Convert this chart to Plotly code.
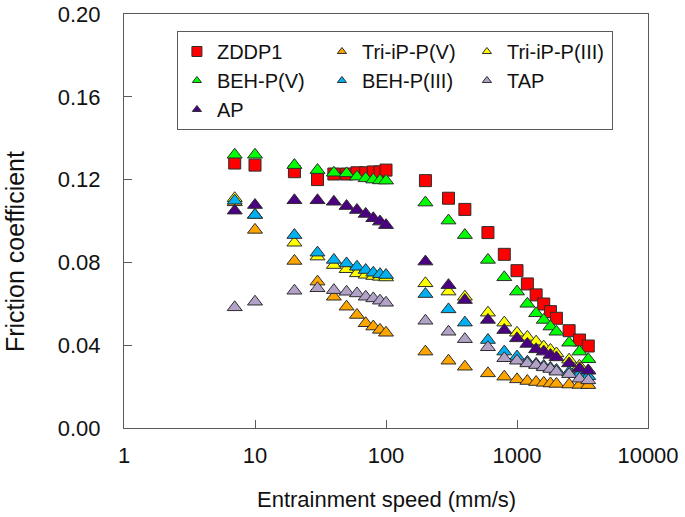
import plotly.graph_objects as go

speed = [7, 10, 20, 30, 40, 50, 60, 70, 80, 90, 100, 200, 300, 400, 600, 800,
         1000, 1200, 1400, 1600, 1800, 2000, 2500, 3000, 3500]

zddp1 = [0.128, 0.127, 0.1238, 0.120, 0.1227, 0.1227, 0.1233, 0.1233, 0.1237, 0.1237, 0.1246,
         0.1195, 0.111, 0.1056, 0.0944, 0.0839, 0.076, 0.0696, 0.0643, 0.0599, 0.0562, 0.053,
         0.047, 0.0425, 0.0396]
tri_v = [0.109, 0.0957, 0.0807, 0.0707, 0.0634, 0.0586, 0.0546, 0.0506, 0.049, 0.0474, 0.046,
         0.0369, 0.0325, 0.0296, 0.0264, 0.0248, 0.0235, 0.0227, 0.0222, 0.0218, 0.0215, 0.0213,
         0.021, 0.0208, 0.0207]
tri_iii = [0.111, 0.103, 0.0895, 0.0828, 0.0787, 0.0767, 0.0747, 0.074, 0.0734, 0.073, 0.0727,
           0.0699, 0.0659, 0.0634, 0.0557, 0.0509, 0.046, 0.044, 0.0417, 0.0393, 0.0377, 0.036,
           0.033, 0.030, 0.0278]
beh_v = [0.132, 0.132, 0.127, 0.1246, 0.1233, 0.123, 0.1214, 0.1206, 0.120, 0.1196, 0.1195,
         0.1089, 0.1002, 0.0932, 0.0812, 0.0728, 0.0659, 0.060, 0.0554, 0.0522, 0.049, 0.0465,
         0.0412, 0.0369, 0.0332]
beh_iii = [0.1098, 0.1029, 0.0932, 0.0847, 0.0812, 0.0795, 0.0779, 0.0763, 0.075, 0.0743, 0.0739,
           0.0647, 0.0573, 0.0509, 0.0425, 0.0369, 0.0345, 0.032, 0.031, 0.030, 0.029, 0.028,
           0.027, 0.026, 0.025]
tap = [0.0583, 0.061, 0.0663, 0.0675, 0.0666, 0.0658, 0.065, 0.0634, 0.0626, 0.0615, 0.0605,
       0.0518, 0.0465, 0.0429, 0.039, 0.0337, 0.0325, 0.0312, 0.0304, 0.0293, 0.0285, 0.0272,
       0.026, 0.0238, 0.023]
ap = [0.105, 0.1077, 0.110, 0.110, 0.1093, 0.1072, 0.1053, 0.1034, 0.1013, 0.0997, 0.098,
      0.0804, 0.069, 0.0618, 0.0522, 0.0473, 0.0433, 0.0406, 0.038, 0.0369, 0.0353, 0.0341,
      0.0312, 0.0288, 0.0277]

series = [
    ("ZDDP1", zddp1, "square", "#FF0000"),
    ("Tri-iP-P(V)", tri_v, "triangle-up", "#FFA500"),
    ("Tri-iP-P(III)", tri_iii, "triangle-up", "#FFFF00"),
    ("BEH-P(V)", beh_v, "triangle-up", "#00FF00"),
    ("BEH-P(III)", beh_iii, "triangle-up", "#00B0F0"),
    ("TAP", tap, "triangle-up", "#B2A2C8"),
    ("AP", ap, "triangle-up", "#4B0082"),
]

x_ticks = [1, 10, 100, 1000, 10000]
x_ticktext = ["1", "10", "100", "1000", "10000"]
y_ticks = [0.0, 0.04, 0.08, 0.12, 0.16, 0.20]
y_ticktext = ["0.00", "0.04", "0.08", "0.12", "0.16", "0.20"]

FONT = "Arial, Liberation Sans, sans-serif"
EDGE = "rgb(45,45,45)"
AXC = "rgb(90,90,90)"

fig = go.Figure()
for name, vals, sym, col in series:
    fig.add_trace(go.Scatter(
        x=speed, y=vals, mode="markers", name=name, showlegend=False,
        legendgroup=name,
        marker=dict(symbol=sym, color=col, size=12 if sym == "square" else 13,
                    line=dict(color=EDGE, width=1)),
    ))
# legend entries (smaller symbols, as in the reference legend)
for name, vals, sym, col in series:
    fig.add_trace(go.Scatter(
        x=[None], y=[None], mode="markers", name=name, showlegend=True,
        legendgroup=name,
        marker=dict(symbol=sym, color=col, size=10 if sym == "square" else 8,
                    line=dict(color=EDGE, width=1)),
    ))

fig.update_layout(
    template="none",
    width=685, height=517,
    margin=dict(l=124, r=37, t=14, b=89, autoexpand=False),
    paper_bgcolor="white", plot_bgcolor="white",
    font=dict(family=FONT, size=22, color="#111111"),
    showlegend=True,
    legend=dict(
        orientation="h", x=0.101, y=0.959, xanchor="left", yanchor="top",
        entrywidth=100, entrywidthmode="pixels",
        font=dict(family=FONT, size=20, color="#111111"),
        bgcolor="white", bordercolor=AXC, borderwidth=1,
        itemclick=False, itemdoubleclick=False,
        tracegroupgap=0,
    ),
    xaxis=dict(
        type="log", range=[0, 4], automargin=False,
        tickvals=x_ticks, ticktext=x_ticktext,
        ticks="inside", ticklen=8, tickcolor=AXC, tickwidth=1,
        showline=True, linecolor=AXC, linewidth=1, mirror=True,
        showgrid=False, zeroline=False,
        ticklabelstandoff=8,
        tickfont=dict(family=FONT, size=22, color="#111111"),
    ),
    yaxis=dict(
        range=[0, 0.2], automargin=False,
        tickvals=y_ticks, ticktext=y_ticktext,
        ticks="inside", ticklen=8, tickcolor=AXC, tickwidth=1,
        showline=True, linecolor=AXC, linewidth=1, mirror=True,
        showgrid=False, zeroline=False,
        ticklabelstandoff=18,
        tickfont=dict(family=FONT, size=22, color="#111111"),
    ),
    annotations=[
        dict(text="Entrainment speed (mm/s)", xref="paper", yref="paper",
             x=0.5, y=-0.1715, xanchor="center", yanchor="middle",
             showarrow=False, font=dict(family=FONT, size=22, color="#111111")),
        dict(text="Friction coefficient", xref="paper", yref="paper",
             x=-0.208, y=0.425, xanchor="center", yanchor="middle", textangle=-90,
             showarrow=False, font=dict(family=FONT, size=25, color="#111111")),
    ],
)

fig.write_html("out.html", config={"displayModeBar": False},
               post_script="document.body.style.margin='0';")
